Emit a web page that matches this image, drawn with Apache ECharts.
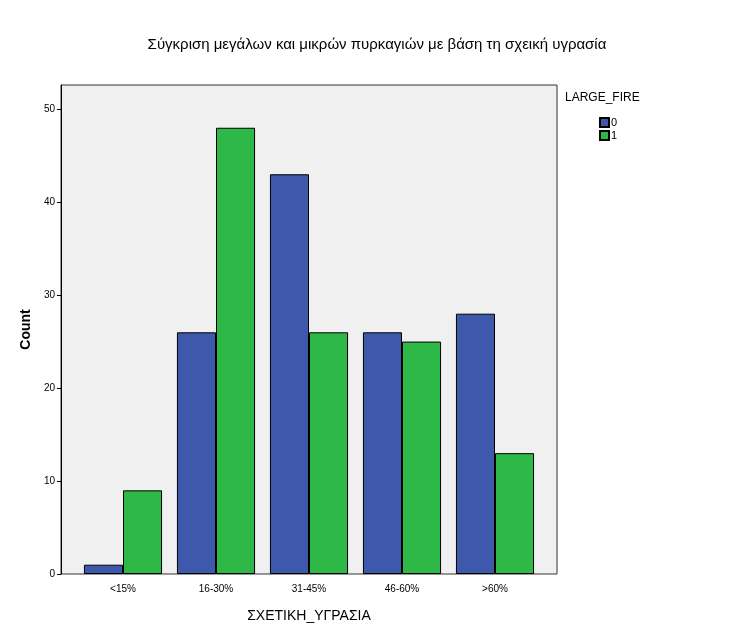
<!DOCTYPE html>
<html><head><meta charset="utf-8">
<script src="https://cdn.jsdelivr.net/npm/echarts@6/dist/echarts.min.js"></script>
<style>html,body{margin:0;background:#fff}#c{width:745px;height:636px}</style>
</head><body><div id="c"></div>
<script>
const categories = ['<15%', '16-30%', '31-45%', '46-60%', '>60%'];
const small = [1, 26, 43, 26, 28];
const large = [9, 48, 26, 25, 13];
const fnt = 'Liberation Sans, Arial, sans-serif';

const chart = echarts.init(document.getElementById('c'));
chart.setOption({
  animation: false,
  title: {
    text: 'Σύγκριση μεγάλων και μικρών πυρκαγιών με βάση τη σχεική υγρασία',
    left: 372, top: 32, textAlign: 'center',
    textStyle: { fontFamily: fnt, fontSize: 15, fontWeight: 'normal', color: '#000' }
  },
  legend: {
    orient: 'vertical', left: 594, top: 112, itemWidth: 9, itemHeight: 9, itemGap: 2, icon: 'rect',
    textStyle: { fontFamily: fnt, fontSize: 11, color: '#000', padding: [0, 0, 0, -3] },
    data: ['0', '1']
  },
  graphic: [
    { type: 'rect', shape: { x: 61, y: 85, width: 496, height: 489 }, z: -1,
      style: { fill: '#f0f0f0', stroke: '#333', lineWidth: 1 } },
    { type: 'text', left: 565, top: 92, style: { text: 'LARGE_FIRE', font: '12px ' + fnt, fill: '#000' } }
  ],
  grid: { left: 76.5, top: 85, width: 465, height: 489 },
  xAxis: {
    type: 'category', data: categories,
    name: 'ΣΧΕΤΙΚΗ_ΥΓΡΑΣΙΑ', nameLocation: 'middle', nameGap: 35,
    nameTextStyle: { fontFamily: fnt, fontSize: 14, color: '#000' },
    axisLine: { show: false },
    axisTick: { show: false },
    axisLabel: { fontFamily: fnt, fontSize: 10, color: '#000', margin: 10 }
  },
  yAxis: {
    type: 'value', min: 0, max: 52.6, interval: 10, offset: 15.5,
    name: 'Count', nameLocation: 'middle', nameGap: 28,
    nameTextStyle: { fontFamily: fnt, fontSize: 14, fontWeight: 'bold', color: '#000' },
    axisLine: { show: true, lineStyle: { color: '#000' } },
    axisTick: { show: true, length: 4, lineStyle: { color: '#000' } },
    splitLine: { show: false },
    axisLabel: { fontFamily: fnt, fontSize: 10, color: '#000', margin: 6, showMaxLabel: false }
  },
  series: [
    { name: '0', type: 'bar', data: small, barGap: '0%', barCategoryGap: '16%',
      itemStyle: { color: '#3e58ac', borderColor: '#000', borderWidth: 1 } },
    { name: '1', type: 'bar', data: large,
      itemStyle: { color: '#2eb848', borderColor: '#000', borderWidth: 1 } }
  ]
});
</script></body></html>
